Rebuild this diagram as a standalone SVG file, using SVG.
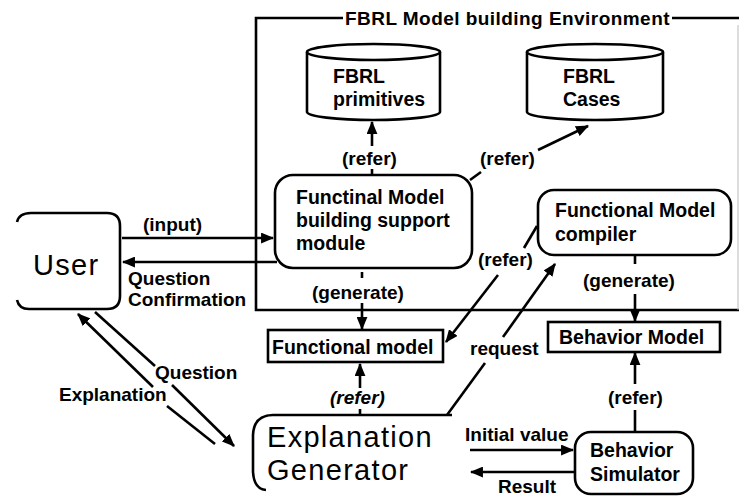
<svg xmlns="http://www.w3.org/2000/svg" width="739" height="496" viewBox="0 0 739 496">
<defs>
<marker id="ah" viewBox="0 0 12 10" refX="11" refY="5" markerWidth="13" markerHeight="11" markerUnits="userSpaceOnUse" orient="auto">
<path d="M0,0 L12,5 L0,10 z" fill="#000"/>
</marker>
<style>
.ln{stroke:#000;stroke-width:2.6;fill:none}
.ar{stroke:#000;stroke-width:2.6;fill:none;marker-end:url(#ah)}
.bx{stroke:#000;stroke-width:2.6;fill:#fff}
.t{font-family:"Liberation Sans",Arial,sans-serif;font-size:19px;font-weight:bold;fill:#000}
.tn{font-family:"Liberation Sans",Arial,sans-serif;font-size:19.5px;font-weight:bold;fill:#000}
.big{font-family:"Liberation Sans",Arial,sans-serif;font-size:29px;letter-spacing:1.3px;fill:#000}
</style>
</defs>
<rect width="739" height="496" fill="#fff"/>

<g id="environment">
<path class="ln" d="M343,18 L256,18 L256,310 L739,310"/>
<path class="ln" d="M672,18 L739,18"/>
<path d="M738,25 L738,310" stroke="#bbb" stroke-width="1" fill="none"/>
<text class="t" x="345" y="25" font-size="19.8" letter-spacing="0.45">FBRL Model building Environment</text>
</g>

<g id="connectors">
<path class="ar" d="M122,238 L273,238"/>
<path class="ar" d="M277,262 L123,262"/>
<path class="ar" d="M372,146 L372,122"/>
<path class="ln" d="M372,169 L372,175"/>
<path class="ln" d="M470,180 L481,172"/>
<path class="ar" d="M538,150 L588,126"/>
<path class="ln" d="M362,272 L362,278"/>
<path class="ar" d="M362,303 L362,329"/>
<path class="ln" d="M537,226 L524,248"/>
<path class="ar" d="M498,275 L446,342"/>
<path class="ar" d="M360,388 L360,364"/>
<path class="ln" d="M360,409 L360,415"/>
<path class="ln" d="M447,415 L485,363"/>
<path class="ar" d="M503,337 L555,264"/>
<path class="ln" d="M635,256 L635,264"/>
<path class="ar" d="M635,294 L635,321"/>
<path class="ar" d="M635,384 L635,353"/>
<path class="ln" d="M635,410 L635,432"/>
<path class="ar" d="M470,450 L573,450"/>
<path class="ar" d="M574,472 L471,472"/>
<path class="ar" d="M153,387 L78,314"/>
<path class="ln" d="M167,406 L215,444"/>
<path class="ln" d="M95,312 L155,366"/>
<path class="ar" d="M172,385 L234,446"/>
<text class="t" x="143" y="231">(input)</text>
<text class="t" x="128" y="285">Question</text>
<text class="t" x="128" y="306">Confirmation</text>
<text class="t" x="342" y="165">(refer)</text>
<text class="t" x="480" y="165">(refer)</text>
<text class="t" x="312" y="299">(generate)</text>
<text class="t" x="478" y="266">(refer)</text>
<text class="t" x="583" y="287">(generate)</text>
<text class="t" x="470" y="355">request</text>
<text class="t" x="330" y="404" font-style="italic">(refer)</text>
<text class="t" x="608" y="404">(refer)</text>
<text class="t" x="465" y="441">Initial value</text>
<text class="t" x="498" y="493">Result</text>
<text class="t" x="155" y="379">Question</text>
<text class="t" x="59" y="401">Explanation</text>
</g>

<g id="user">
<path class="ln" d="M17,222 Q19,213 31,213 L107,213 Q120,213 120,226 L120,296 Q120,309 107,309 L29,309 Q19,309 17,300"/>
<text class="big" x="33" y="275" font-size="30" letter-spacing="0.5">User</text>
</g>

<g id="fbrl-primitives">
<path class="bx" d="M307,52 L307,112 A66.5,8 0 0 0 440,112 L440,52"/>
<ellipse class="bx" cx="373.5" cy="52" rx="66.5" ry="8"/>
<text class="tn" x="333" y="83">FBRL</text>
<text class="tn" x="333" y="106">primitives</text>
</g>

<g id="fbrl-cases">
<path class="bx" d="M527,52 L527,112 A68,8 0 0 0 663,112 L663,52"/>
<ellipse class="bx" cx="595" cy="52" rx="68" ry="8"/>
<text class="tn" x="563" y="83">FBRL</text>
<text class="tn" x="563" y="106">Cases</text>
</g>

<g id="fm-building-support">
<rect class="bx" x="275" y="175" width="197" height="93" rx="18"/>
<text class="tn" x="296" y="204">Functinal Model</text>
<text class="tn" x="296" y="227">building support</text>
<text class="tn" x="296" y="250">module</text>
</g>

<g id="fm-compiler">
<rect class="bx" x="538" y="190" width="193" height="65" rx="16"/>
<text class="tn" x="555" y="217">Functional Model</text>
<text class="tn" x="555" y="241">compiler</text>
</g>

<g id="functional-model">
<rect class="bx" x="268" y="330" width="175" height="32"/>
<text class="tn" x="272" y="354">Functional model</text>
</g>

<g id="behavior-model">
<rect class="bx" x="548" y="322" width="172" height="30"/>
<text class="tn" x="559" y="344">Behavior Model</text>
</g>

<g id="explanation-generator">
<path class="ln" d="M452,415 L273,415 Q254,415 253,435 L253,472 Q254,489 266,490"/>
<text class="big" x="267" y="447">Explanation</text>
<text class="big" x="267" y="480">Generator</text>
</g>

<g id="behavior-simulator">
<rect class="bx" x="575" y="432" width="118" height="62" rx="16"/>
<text class="tn" x="590" y="457">Behavior</text>
<text class="tn" x="590" y="481">Simulator</text>
</g>
</svg>
